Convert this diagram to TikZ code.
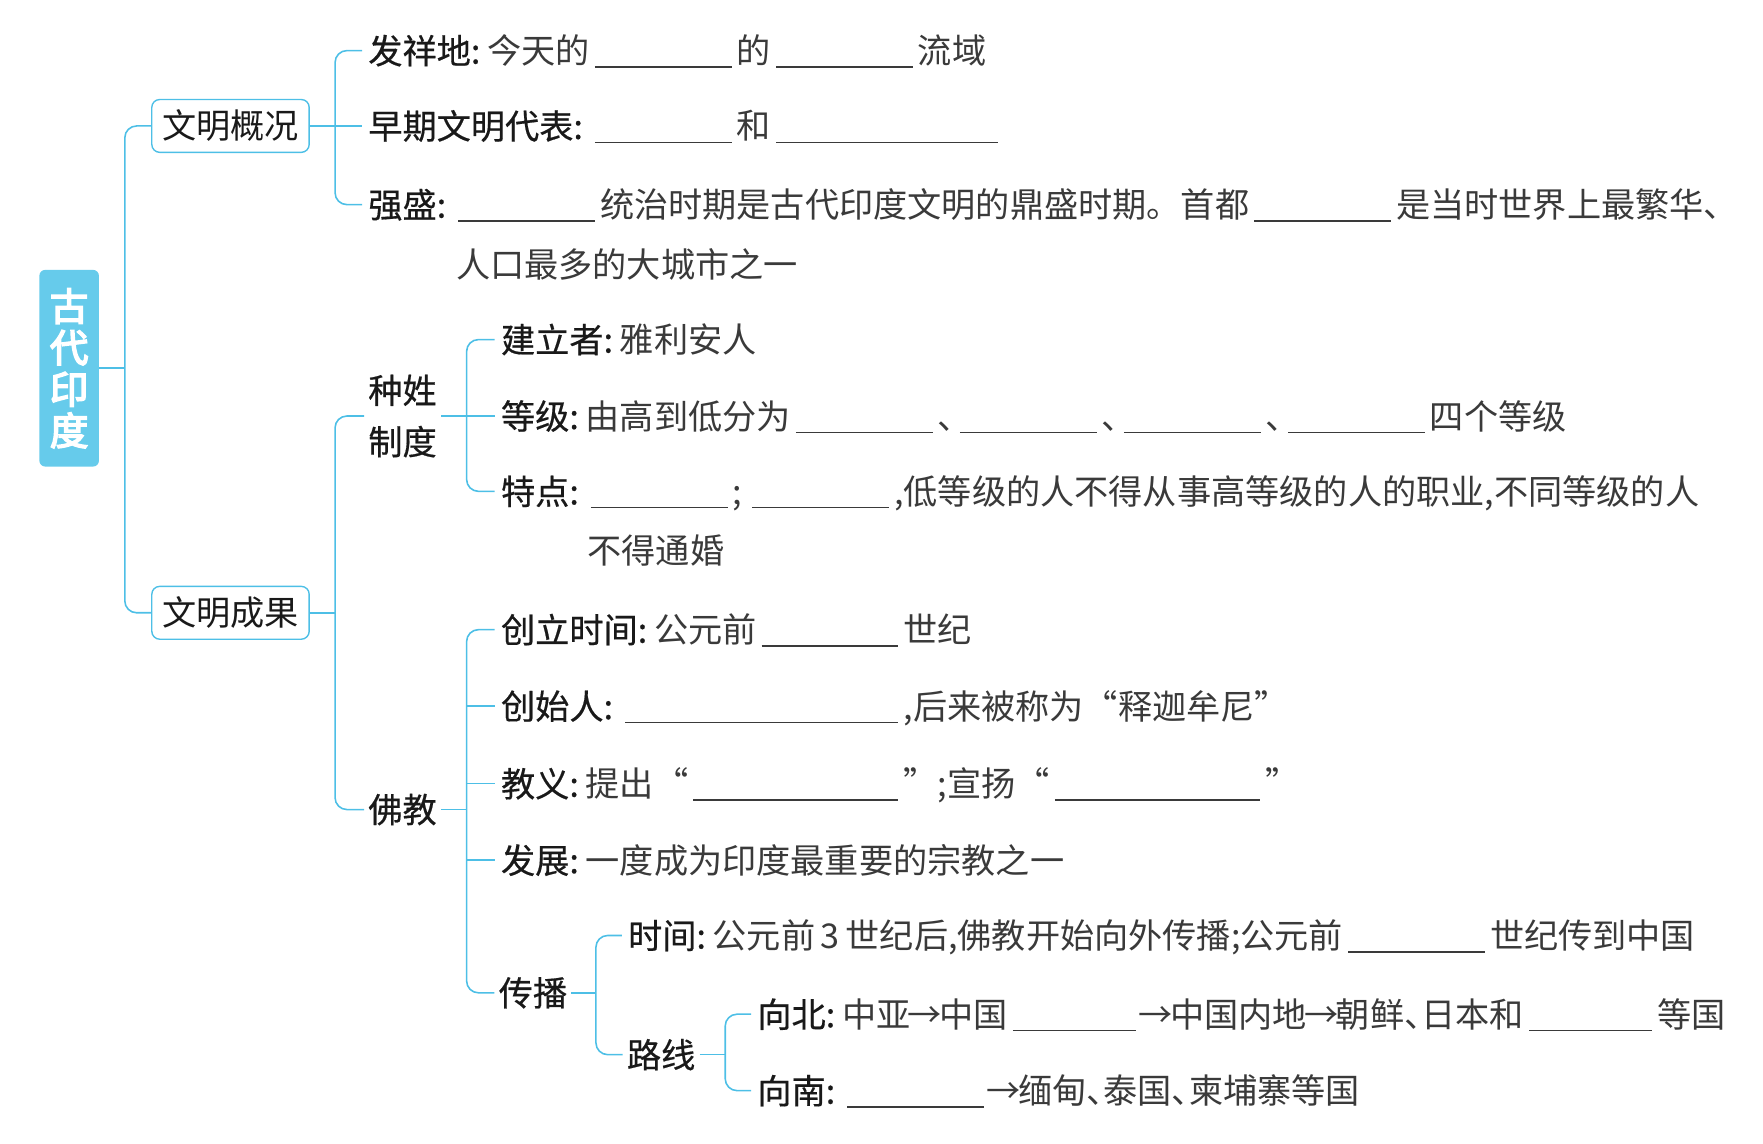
\documentclass[tikz,border=0pt]{standalone}
\usepackage{fontspec}
\setmainfont{Noto Sans CJK SC}
\newfontfamily\lblfont[FakeBold=0.5]{Noto Sans CJK SC}
\newfontfamily\ttlfont[FakeBold=4]{Noto Sans CJK SC}
\definecolor{lineblue}{HTML}{4DBFE6}
\definecolor{rootblue}{HTML}{66CBEB}
\definecolor{txtgray}{HTML}{3A3A3A}
\newcommand{\lab}[1]{{\lblfont\color{black!90}#1:}\hspace{0.2em}}
\newcommand{\blank}[1]{\hspace{0.15em}\rule[-0.12em]{#1em}{0.7pt}\hspace{0.15em}}
\newcommand{\dun}{\makebox[0.5em][l]{、}}
\newcommand{\arr}{\makebox[0.85em][c]{→}}

\begin{document}
\begin{tikzpicture}[x=0.02cm, y=-0.02cm,
    item/.style={anchor=west, inner xsep=3pt, inner ysep=0pt, text height=15pt, text depth=1.8pt,
                 font=\fontsize{17.3}{20}\selectfont, text=txtgray},
    head/.style={inner sep=2pt, align=center, text=black!90, font=\lblfont\fontsize{17.3}{26}\selectfont},
    topic/.style={draw=lineblue, line width=0.7pt, rounded corners=4pt, minimum width=2.8cm,
                  minimum height=0.94cm, inner sep=0pt, text=black!90, font=\fontsize{17.3}{20}\selectfont},
    root/.style={fill=rootblue, rounded corners=3pt, minimum width=1.06cm, minimum height=3.5cm,
                 inner sep=0pt, align=center, text=white, font=\ttlfont\fontsize{19.5}{21}\selectfont},
    link/.style={draw=lineblue, line width=0.8pt, rounded corners=6pt}]
    \useasboundingbox (0,0) rectangle (1568,1017);

    % root and topics
    \node[root] (gdyd) at (61.5,327.5) {古\\代\\印\\度};
    \node[topic] (wmgk) at (205,112) {文明概况};
    \node[topic] (wmcg) at (205,545) {文明成果};

    % civilisation overview
    \node[item] (fxd) at (322,45) {\lab{发祥地}今天的\blank{4}的\blank{4}流域};
    \node[item] (zq) at (322,112) {\lab{早期文明代表}\blank{4}和\blank{6.5}};
    \node[item] (qs) at (322,182) {\lab{强盛}\blank{4}统治时期是古代印度文明的鼎盛时期。首都\blank{4}是当时世界上最繁华、};
    \node[item] (qs2) at (400,235) {人口最多的大城市之一};

    % caste system
    \node[head] (zx) at (358,370) {种姓\\制度};
    \node[item] (jlz) at (440,302) {\lab{建立者}雅利安人};
    \node[item] (dj) at (440,370) {\lab{等级}由高到低分为\blank{4}\dun\blank{4}\dun\blank{4}\dun\blank{4}四个等级};
    \node[item] (td) at (440,437) {\lab{特点}\blank{4};\hspace{0.15em}\blank{4},低等级的人不得从事高等级的人的职业,不同等级的人};
    \node[item] (td2) at (517,490) {不得通婚};

    % buddhism
    \node[head] (fj) at (358,720) {佛教};
    \node[item] (clsj) at (440,560) {\lab{创立时间}公元前\blank{4}世纪};
    \node[item] (csr) at (440,628) {\lab{创始人}\blank{8},后来被称为“释迦牟尼”};
    \node[item] (jy) at (440,697) {\lab{教义}提出“\blank{6}”;宣扬“\blank{6}”};
    \node[item] (fz) at (440,765) {\lab{发展}一度成为印度最重要的宗教之一};
    \node[head] (cb) at (474,883) {传播};
    \node[item] (sj) at (553,832) {\lab{时间}公元前\,3\,世纪后,佛教开始向外传播;公元前\blank{4}世纪传到中国};
    \node[head] (lx) at (588,938) {路线};
    \node[item] (xb) at (668,902) {\lab{向北}中亚\arr 中国\blank{3.6}\arr 中国内地\arr 朝鲜\dun 日本和\blank{3.6}等国};
    \node[item] (xn) at (668,970) {\lab{向南}\blank{4}\arr 缅甸\dun 泰国\dun 柬埔寨等国};

    % junctions
    \coordinate (j0) at (111,327.5);
    \coordinate (j1) at (298,112);
    \coordinate (j2) at (298,545);
    \coordinate (j3) at (415,370);
    \coordinate (j4) at (415,720);
    \coordinate (j5) at (530,883);
    \coordinate (j6) at (645,938);

    \draw[link] (gdyd.east) -- (j0);
    \draw[link] (wmgk.west) -| (j0) |- (wmcg.west);

    \draw[link] (wmgk.east) -- (zq.west);
    \draw[link] (fxd.west) -| (j1) |- (qs.west);

    \draw[link] (wmcg.east) -- (j2);
    \draw[link] (zx.west) -| (j2) |- (fj.west);

    \draw[link] (zx.east) -- (dj.west);
    \draw[link] (jlz.west) -| (j3) |- (td.west);

    \draw[link] (fj.east) -- (j4);
    \draw[link] (clsj.west) -| (j4) |- (cb.west);
    \draw[link] (j4 |- csr.west) -- (csr.west);
    \draw[link] (j4 |- jy.west) -- (jy.west);
    \draw[link] (j4 |- fz.west) -- (fz.west);

    \draw[link] (cb.east) -- (j5);
    \draw[link] (sj.west) -| (j5) |- (lx.west);

    \draw[link] (lx.east) -- (j6);
    \draw[link] (xb.west) -| (j6) |- (xn.west);
\end{tikzpicture}
\end{document}
